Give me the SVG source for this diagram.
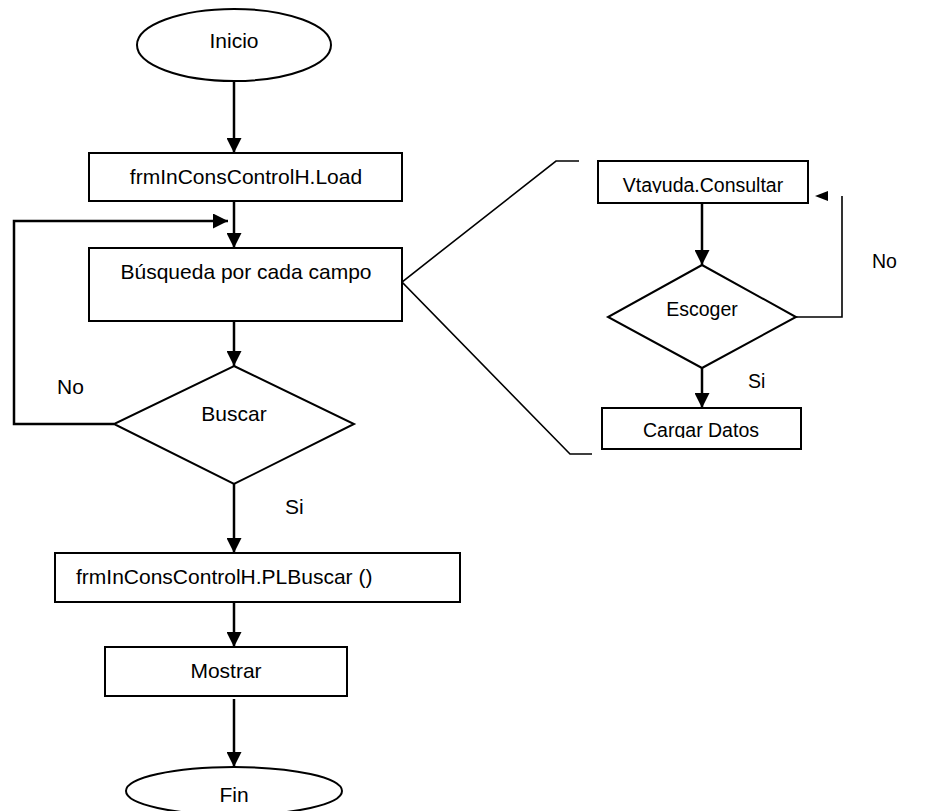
<svg xmlns="http://www.w3.org/2000/svg" width="949" height="811" viewBox="0 0 949 811">
<style>
.shape{fill:#fff;stroke:#000;stroke-width:2}
.ln{fill:none;stroke:#000;stroke-width:2.5}
.thin{fill:none;stroke:#000;stroke-width:1.6}
.t{font-family:"Liberation Sans",Arial,sans-serif;font-size:21px;fill:#000}
.s{font-family:"Liberation Sans",Arial,sans-serif;font-size:19.5px;fill:#000}
.c{text-anchor:middle}
</style>
<defs>
<marker id="ah" markerWidth="6" markerHeight="6" refX="6" refY="3" orient="auto" markerUnits="strokeWidth">
<path d="M0,0 L6,3 L0,6 Z" fill="#000"/>
</marker>
<clipPath id="cv"><rect x="598" y="161" width="210" height="32"/></clipPath>
<clipPath id="cc"><rect x="602" y="408" width="199" height="30"/></clipPath>
</defs>
<rect width="949" height="811" fill="#fff"/>
<g id="connectors">
<line class="ln" x1="234" y1="81" x2="234" y2="153" marker-end="url(#ah)"/>
<line class="ln" x1="234" y1="201" x2="234" y2="248" marker-end="url(#ah)"/>
<polyline class="ln" points="114,424 14,424 14,221 228,221" marker-end="url(#ah)"/>
<line class="ln" x1="234" y1="321" x2="234" y2="366" marker-end="url(#ah)"/>
<line class="ln" x1="234" y1="484" x2="234" y2="553" marker-end="url(#ah)"/>
<line class="ln" x1="234" y1="602" x2="234" y2="647" marker-end="url(#ah)"/>
<line class="ln" x1="234" y1="699" x2="234" y2="767" marker-end="url(#ah)"/>
<polyline class="thin" points="579,161 556,161 402,282 570,454 592,454"/>
<line class="ln" x1="702" y1="203" x2="702" y2="265" marker-end="url(#ah)"/>
<line class="ln" x1="702" y1="368" x2="702" y2="408" marker-end="url(#ah)"/>
<polyline class="thin" points="796,317 842,317 842,196"/>
<polygon points="815,196 828,191 828,201" fill="#000"/>
</g>
<g id="inicio">
<ellipse class="shape" cx="234" cy="45" rx="97" ry="36"/>
<text class="t c" x="234" y="48">Inicio</text>
</g>
<g id="load">
<rect class="shape" x="89" y="153" width="313" height="48"/>
<text class="t c" x="246" y="184">frmInConsControlH.Load</text>
</g>
<g id="busqueda">
<rect class="shape" x="89" y="248" width="313" height="73"/>
<text class="t c" x="246" y="279">Búsqueda por cada campo</text>
</g>
<g id="buscar">
<polygon class="shape" points="234,366 354,424 234,484 114,424"/>
<text class="t c" x="234" y="421">Buscar</text>
</g>
<g id="plbuscar">
<rect class="shape" x="55" y="553" width="405" height="49"/>
<text class="t" x="76" y="584">frmInConsControlH.PLBuscar ()</text>
</g>
<g id="mostrar">
<rect class="shape" x="105" y="647" width="242" height="49"/>
<text class="t c" x="226" y="678">Mostrar</text>
</g>
<g id="fin">
<ellipse class="shape" cx="234" cy="791" rx="108" ry="24"/>
<text class="t c" x="234" y="802">Fin</text>
</g>
<g id="consultar">
<rect class="shape" x="598" y="161" width="210" height="42"/>
<text class="s c" x="703" y="192" clip-path="url(#cv)">Vtayuda.Consultar</text>
</g>
<g id="escoger">
<polygon class="shape" points="702,265 796,317 702,368 608,317"/>
<text class="s c" x="702" y="316">Escoger</text>
</g>
<g id="cargar">
<rect class="shape" x="602" y="408" width="199" height="41"/>
<text class="s c" x="701" y="437" clip-path="url(#cc)">Cargar Datos</text>
</g>
<g id="labels">
<text class="t" x="57" y="394">No</text>
<text class="t" x="285" y="514">Si</text>
<text class="s" x="872" y="268">No</text>
<text class="s" x="748" y="388">Si</text>
</g>
</svg>
